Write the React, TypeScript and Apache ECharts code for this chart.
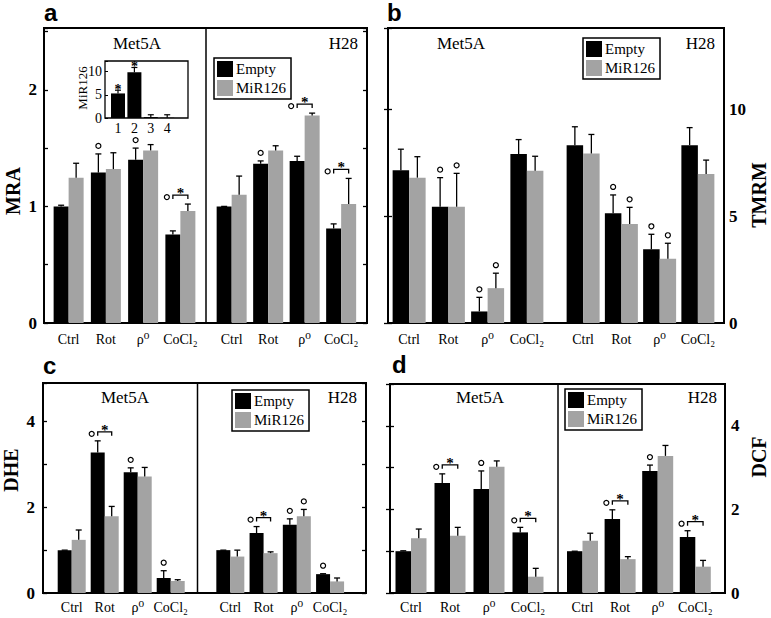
import React, { useEffect, useRef } from 'react';
import * as echarts from 'echarts';

// ---------------- data ----------------
const categories = ['Ctrl', 'Rot', 'ρ0', 'CoCl2'];
const cellLines = ['Met5A', 'H28'];
const seriesNames = ['Empty', 'MiR126'];

// a: MRA
const mraMet5aEmpty = [1.0, 1.29, 1.4, 0.76];
const mraMet5aEmptySd = [0.01, 0.16, 0.1, 0.03];
const mraMet5aMir = [1.245, 1.32, 1.48, 0.96];
const mraMet5aMirSd = [0.125, 0.14, 0.05, 0.06];
const mraMet5aMarks = ['', 'e', 'e', 'b'];
const mraH28Empty = [1.0, 1.365, 1.39, 0.81];
const mraH28EmptySd = [0.0, 0.025, 0.04, 0.04];
const mraH28Mir = [1.1, 1.48, 1.78, 1.02];
const mraH28MirSd = [0.16, 0.04, 0.02, 0.22];
const mraH28Marks = ['', 'e', 'b', 'b'];
const mraTicks = [0, 1, 2];

// inset: MiR126 expression
const insetLabels = ['1', '2', '3', '4'];
const insetMir126 = [5.3, 9.85, 0.2, 0.05];
const insetMir126Sd = [0.7, 1.05, 0.5, 0.65];
const insetStars = ['*', '*', '', ''];
const insetTicks = [0, 5, 10];

// b: TMRM
const tmrmMet5aEmpty = [7.15, 5.44, 0.54, 7.9];
const tmrmMet5aEmptySd = [0.98, 1.36, 0.66, 0.68];
const tmrmMet5aMir = [6.8, 5.44, 1.63, 7.12];
const tmrmMet5aMirSd = [0.98, 1.56, 0.7, 0.68];
const tmrmMet5aMarks = ['', 'em', 'em', ''];
const tmrmH28Empty = [8.32, 5.13, 3.45, 8.32];
const tmrmH28EmptySd = [0.86, 0.86, 0.7, 0.82];
const tmrmH28Mir = [7.93, 4.63, 3.0, 6.97];
const tmrmH28MirSd = [0.89, 0.78, 0.73, 0.65];
const tmrmH28Marks = ['', 'em', 'em', ''];
const tmrmTicks = [0, 5, 10];

// c: DHE
const dheMet5aEmpty = [1.0, 3.28, 2.82, 0.35];
const dheMet5aEmptySd = [0.0, 0.27, 0.1, 0.17];
const dheMet5aMir = [1.24, 1.79, 2.72, 0.28];
const dheMet5aMirSd = [0.23, 0.23, 0.21, 0.03];
const dheMet5aMarks = ['', 'b', 'e', 'e'];
const dheH28Empty = [1.0, 1.4, 1.59, 0.44];
const dheH28EmptySd = [0.0, 0.15, 0.14, 0.01];
const dheH28Mir = [0.85, 0.93, 1.79, 0.27];
const dheH28MirSd = [0.15, 0.03, 0.16, 0.08];
const dheH28Marks = ['', 'b', 'em', 'e'];
const dheTicks = [0, 2, 4];

// d: DCF
const dcfMet5aEmpty = [1.0, 2.63, 2.49, 1.45];
const dcfMet5aEmptySd = [0.01, 0.22, 0.43, 0.12];
const dcfMet5aMir = [1.31, 1.37, 3.02, 0.39];
const dcfMet5aMirSd = [0.22, 0.2, 0.14, 0.2];
const dcfMet5aMarks = ['', 'b', 'e', 'b'];
const dcfH28Empty = [1.0, 1.77, 2.92, 1.34];
const dcfH28EmptySd = [0.0, 0.22, 0.14, 0.15];
const dcfH28Mir = [1.25, 0.81, 3.28, 0.63];
const dcfH28MirSd = [0.18, 0.06, 0.25, 0.15];
const dcfH28Marks = ['', 'b', 'e', 'b'];
const dcfTicks = [0, 2, 4];

// ---------------- styles / layout ----------------
const SERIF = '"Liberation Serif", "Times New Roman", "DejaVu Serif", serif';
const SANS = '"Liberation Sans", Arial, sans-serif';
const BLACK = '#000000';
const GREY = '#a3a3a3';

const panels = [
  {
    letter: 'a', letterPos: [44, 12],
    frame: { left: 44, top: 28, width: 323, height: 295 }, max: 2.53, interval: 0.5, ticks: mraTicks,
    side: 'left', labelMargin: 7, catMargin: 9,
    name: 'MRA', namePos: [13, 191],
    halves: [
      { left: 50, width: 149, empty: mraMet5aEmpty, emptySd: mraMet5aEmptySd, mir: mraMet5aMir, mirSd: mraMet5aMirSd, marks: mraMet5aMarks },
      { left: 213.4, width: 146, empty: mraH28Empty, emptySd: mraH28EmptySd, mir: mraH28Mir, mirSd: mraH28MirSd, marks: mraH28Marks },
    ],
    barWidth: 15, divider: 206, legend: { left: 214, top: 58 },
    titles: [{ x: 137, y: 43, align: 'center' }, { x: 358, y: 43, align: 'right' }],
  },
  {
    letter: 'b', letterPos: [387, 12],
    frame: { left: 388, top: 28, width: 336, height: 295 }, max: 13.8, interval: 5, ticks: tmrmTicks,
    side: 'right', labelMargin: 5, catMargin: 9,
    name: 'TMRM', namePos: [759, 195],
    halves: [
      { left: 389.5, width: 157, empty: tmrmMet5aEmpty, emptySd: tmrmMet5aEmptySd, mir: tmrmMet5aMir, mirSd: tmrmMet5aMirSd, marks: tmrmMet5aMarks },
      { left: 564, width: 153, empty: tmrmH28Empty, emptySd: tmrmH28EmptySd, mir: tmrmH28Mir, mirSd: tmrmH28MirSd, marks: tmrmH28Marks },
    ],
    barWidth: 16.5, divider: null, legend: { left: 583, top: 38 },
    titles: [{ x: 461, y: 43, align: 'center' }, { x: 715, y: 43, align: 'right' }],
  },
  {
    letter: 'c', letterPos: [43, 365],
    frame: { left: 43, top: 383, width: 323, height: 210 }, max: 4.9, interval: 1, ticks: dheTicks,
    side: 'left', labelMargin: 8, catMargin: 7,
    name: 'DHE', namePos: [11, 470],
    halves: [
      { left: 55.2, width: 132, empty: dheMet5aEmpty, emptySd: dheMet5aEmptySd, mir: dheMet5aMir, mirSd: dheMet5aMirSd, marks: dheMet5aMarks },
      { left: 213.7, width: 133, empty: dheH28Empty, emptySd: dheH28EmptySd, mir: dheH28Mir, mirSd: dheH28MirSd, marks: dheH28Marks },
    ],
    barWidth: 14, divider: 197.5, legend: { left: 232, top: 390 },
    titles: [{ x: 125, y: 397, align: 'center' }, { x: 357, y: 397, align: 'right' }],
  },
  {
    letter: 'd', letterPos: [392, 364],
    frame: { left: 390, top: 384, width: 335, height: 209 }, max: 5.0, interval: 1, ticks: dcfTicks,
    side: 'right', labelMargin: 6, catMargin: 7,
    name: 'DCF', namePos: [759, 457],
    halves: [
      { left: 391.5, width: 156, empty: dcfMet5aEmpty, emptySd: dcfMet5aEmptySd, mir: dcfMet5aMir, mirSd: dcfMet5aMirSd, marks: dcfMet5aMarks },
      { left: 563.7, width: 150.4, empty: dcfH28Empty, emptySd: dcfH28EmptySd, mir: dcfH28Mir, mirSd: dcfH28MirSd, marks: dcfH28Marks },
    ],
    barWidth: 15.5, divider: 558, legend: { left: 565, top: 389 },
    titles: [{ x: 480, y: 397, align: 'center' }, { x: 717, y: 397, align: 'right' }],
  },
];

const catLabel = (v: string) => (v === 'ρ0' ? 'ρ⁰' : v === 'CoCl2' ? 'CoCl₂' : v);

const txt = (text: string, x: number, y: number, font: string, align = 'center', vAlign = 'middle', rotation = 0) => ({
  type: 'text', x, y, rotation, z: 20,
  style: { text, font, fill: BLACK, align, textAlign: align, verticalAlign: vAlign, textVerticalAlign: vAlign },
});

const starStyle = (size: number) => ({
  text: '*', font: `bold ${size}px ${SERIF}`, fill: BLACK, textFill: BLACK,
  align: 'center', textAlign: 'center', verticalAlign: 'middle', textVerticalAlign: 'middle',
});

const tickFormatter = (ticks: number[]) => (v: number) => {
  const t = ticks.find((k) => Math.abs(k - v) < 1e-6);
  return t === undefined ? '' : String(t);
};

const renderPair = (bw: number, marks: string[]) => (params: any, api: any) => {
  const i = api.value(0);
  const ve = api.value(1), se = api.value(2), vm = api.value(3), sm = api.value(4);
  const cx = api.coord([i, 0])[0];
  const xE = cx - bw / 2, xM = cx + bw / 2;
  const yE0 = api.coord([i, ve])[1], yE1 = api.coord([i, ve + se])[1];
  const yM0 = api.coord([i, vm])[1], yM1 = api.coord([i, vm + sm])[1];
  const ch: any[] = [];
  const ls = { stroke: BLACK, lineWidth: 1.3 };
  const err = (x: number, y0: number, y1: number) => {
    ch.push({ type: 'line', shape: { x1: x, y1: y0, x2: x, y2: y1 }, style: ls });
    ch.push({ type: 'line', shape: { x1: x - 3, y1: y1, x2: x + 3, y2: y1 }, style: ls });
  };
  err(xE, yE0, yE1);
  err(xM, yM0, yM1);
  const circle = (x: number, y: number) =>
    ch.push({ type: 'circle', shape: { cx: x, cy: y, r: 2.5 }, style: { fill: '#ffffff', stroke: BLACK, lineWidth: 1.2 } });
  const m = marks[params.dataIndex] || '';
  if (m.includes('e')) circle(xE, yE1 - 8);
  if (m.includes('m')) circle(xM, yM1 - 8);
  if (m.includes('b')) {
    const yb = Math.min(yE1, yM1) - 9;
    ch.push({ type: 'polyline', shape: { points: [[xE, yb + 4], [xE, yb], [xM, yb], [xM, yb + 4]] }, style: { ...ls, fill: 'none' } });
    ch.push({ type: 'text', x: cx, y: yb - 2, style: starStyle(15) });
    circle(xE - 6, yb + 2);
  }
  return { type: 'group', children: ch };
};

const renderInset = (params: any, api: any) => {
  const i = api.value(0), v = api.value(1), sd = api.value(2);
  const x = api.coord([i, 0])[0];
  const y0 = api.coord([i, v])[1], y1 = api.coord([i, v + sd])[1];
  const ls = { stroke: BLACK, lineWidth: 1.2 };
  const ch: any[] = [
    { type: 'line', shape: { x1: x, y1: y0, x2: x, y2: y1 }, style: ls },
    { type: 'line', shape: { x1: x - 3, y1: y1, x2: x + 3, y2: y1 }, style: ls },
  ];
  if (insetStars[params.dataIndex]) ch.push({ type: 'text', x, y: y1 - 1, style: starStyle(14) });
  return { type: 'group', children: ch };
};

function buildOption() {
  const grid: any[] = [], xAxis: any[] = [], yAxis: any[] = [], series: any[] = [], legend: any[] = [], graphic: any[] = [];
  const tick = { show: true, inside: true, length: 4, lineStyle: { color: BLACK, width: 1.3 } };

  panels.forEach((p) => {
    const fg = grid.length;
    grid.push({ ...p.frame, show: true, borderColor: BLACK, borderWidth: 2, backgroundColor: 'transparent', outerBoundsMode: 'none', z: 1 });
    xAxis.push({ type: 'value', gridIndex: fg, show: false, min: 0, max: 1 });
    const other = p.side === 'left' ? 'right' : 'left';
    yAxis.push({
      type: 'value', gridIndex: fg, position: p.side, min: 0, max: p.max, interval: p.interval,
      axisLine: { show: false }, axisTick: tick, splitLine: { show: false },
      axisLabel: { show: true, margin: p.labelMargin, formatter: tickFormatter(p.ticks), fontFamily: SERIF, fontWeight: 'bold', fontSize: 17, color: BLACK },
    });
    yAxis.push({
      type: 'value', gridIndex: fg, position: other, min: 0, max: p.max, interval: p.interval,
      axisLine: { show: false }, axisTick: tick, splitLine: { show: false }, axisLabel: { show: false },
    });

    p.halves.forEach((h, hi) => {
      const gi = grid.length;
      grid.push({ left: h.left, top: p.frame.top, width: h.width, height: p.frame.height, show: false, outerBoundsMode: 'none' });
      const xi = xAxis.length;
      xAxis.push({
        type: 'category', gridIndex: gi, data: categories,
        axisLine: { show: false }, axisTick: { show: false }, splitLine: { show: false },
        axisLabel: { interval: 0, margin: p.catMargin, formatter: catLabel, fontFamily: SERIF, fontSize: 14, color: BLACK },
      });
      const yi = yAxis.length;
      yAxis.push({ type: 'value', gridIndex: gi, min: 0, max: p.max, show: false, splitLine: { show: false } });
      series.push({ type: 'bar', name: seriesNames[0], xAxisIndex: xi, yAxisIndex: yi, data: h.empty, barWidth: p.barWidth, barGap: '0%', itemStyle: { color: BLACK }, silent: true });
      series.push({ type: 'bar', name: seriesNames[1], xAxisIndex: xi, yAxisIndex: yi, data: h.mir, barWidth: p.barWidth, barGap: '0%', itemStyle: { color: GREY }, silent: true });
      series.push({
        type: 'custom', name: 'err', xAxisIndex: xi, yAxisIndex: yi, z: 5, silent: true,
        itemStyle: { color: BLACK },
        data: h.empty.map((v, i) => [i, v, h.emptySd[i], h.mir[i], h.mirSd[i]]),
        renderItem: renderPair(p.barWidth, h.marks),
      });
      const t = p.titles[hi];
      graphic.push(txt(cellLines[hi], t.x, t.y, `17px ${SERIF}`, t.align));
    });

    legend.push({
      left: p.legend.left, top: p.legend.top, orient: 'vertical', data: seriesNames,
      itemWidth: 16, itemHeight: 16, itemGap: 3, padding: [3, 5, 3, 3],
      borderColor: BLACK, borderWidth: 1.5, borderRadius: 0, backgroundColor: '#ffffff',
      icon: 'rect', selectedMode: false,
      textStyle: { fontFamily: SERIF, fontSize: 15, color: BLACK, padding: [0, 0, 0, -2] },
    });

    if (p.divider !== null) {
      graphic.push({ type: 'line', z: 20, shape: { x1: p.divider, y1: p.frame.top, x2: p.divider, y2: p.frame.top + p.frame.height }, style: { stroke: BLACK, lineWidth: 1.5 } });
    }
    graphic.push(txt(p.letter, p.letterPos[0], p.letterPos[1], `bold 24px ${SANS}`, 'left'));
    graphic.push(txt(p.name, p.namePos[0], p.namePos[1], `bold 20px ${SERIF}`, 'center', 'middle', Math.PI / 2));
  });

  // inset in panel a
  const ig = grid.length;
  grid.push({ left: 105, top: 61, width: 83, height: 57, show: true, borderColor: BLACK, borderWidth: 1.3, backgroundColor: 'transparent', outerBoundsMode: 'none' });
  xAxis.push({ type: 'value', gridIndex: ig, show: false, min: 0, max: 1 });
  yAxis.push({
    type: 'value', gridIndex: ig, position: 'left', min: 0, max: 12.3, interval: 5,
    axisLine: { show: false }, axisTick: { show: true, inside: true, length: 3, lineStyle: { color: BLACK, width: 1 } }, splitLine: { show: false },
    axisLabel: { margin: 3, formatter: tickFormatter(insetTicks), fontFamily: SERIF, fontSize: 14, color: BLACK },
  });
  const ibg = grid.length;
  grid.push({ left: 109.8, top: 61, width: 65.6, height: 57, show: false, outerBoundsMode: 'none' });
  const ixi = xAxis.length;
  xAxis.push({
    type: 'category', gridIndex: ibg, data: insetLabels,
    axisLine: { show: false }, axisTick: { show: false }, splitLine: { show: false },
    axisLabel: { interval: 0, margin: 3, fontFamily: SERIF, fontSize: 14, color: BLACK },
  });
  const iyi = yAxis.length;
  yAxis.push({ type: 'value', gridIndex: ibg, min: 0, max: 12.3, show: false, splitLine: { show: false } });
  series.push({ type: 'bar', name: 'insetMiR126', xAxisIndex: ixi, yAxisIndex: iyi, data: insetMir126, barWidth: 14, itemStyle: { color: BLACK }, silent: true });
  series.push({
    type: 'custom', name: 'insetErr', xAxisIndex: ixi, yAxisIndex: iyi, z: 5, silent: true,
    itemStyle: { color: BLACK },
    data: insetMir126.map((v, i) => [i, v, insetMir126Sd[i]]),
    renderItem: renderInset,
  });
  graphic.push(txt('MiR126', 82, 88, `13px ${SERIF}`, 'center', 'middle', Math.PI / 2));

  return {
    animation: false,
    backgroundColor: '#ffffff',
    tooltip: { show: false },
    grid, xAxis, yAxis, series, legend, graphic,
  };
}

export default function App() {
  const ref = useRef<HTMLDivElement>(null);
  useEffect(() => {
    if (!ref.current) return;
    const chart = echarts.init(ref.current, undefined, { renderer: 'svg' });
    chart.setOption(buildOption() as any);
    return () => chart.dispose();
  }, []);
  return (
    <div
      ref={ref}
      style={{ position: 'absolute', left: 0, top: 0, width: 771, height: 618, background: '#ffffff' }}
    />
  );
}
